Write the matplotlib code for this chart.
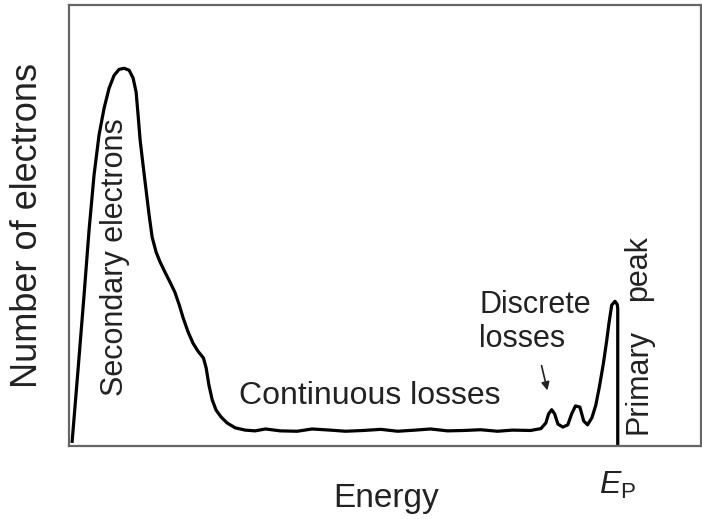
import matplotlib
matplotlib.use("Agg")
import matplotlib.pyplot as plt

plt.rcParams['font.family'] = ['Liberation Sans', 'DejaVu Sans']
plt.rcParams['mathtext.fontset'] = 'custom'
plt.rcParams['mathtext.rm'] = 'Liberation Sans'
plt.rcParams['mathtext.it'] = 'Liberation Sans:italic'

# energy in arbitrary units (E_P = 100), counts in arbitrary units (max = 100)
energy = [0.55, 1.64, 2.74, 3.65, 4.56, 5.47, 6.39, 7.30, 8.21, 9.12, 10.04,
          10.95, 11.68, 12.23, 12.59, 12.96, 13.5, 14.05, 14.6, 15.15, 15.88,
          16.6, 17.5, 18.4, 19.3, 20.1, 20.8, 21.7, 22.6, 23.5, 24.5, 25.0,
          25.5, 26.1, 26.8, 27.7, 28.8, 30.3, 32.1, 33.9, 35.8, 38.5,
          41.6, 44.3, 47.6, 50.4, 53.6, 56.8, 59.9, 63.1, 65.9, 69.0, 71.9,
          75.0, 78.1, 80.8, 84.1, 86.0, 86.9, 87.4, 87.96, 88.5, 89.1, 90.0,
          90.9, 91.6, 92.3, 93.1, 93.8, 94.5, 95.3, 96.0, 96.7, 97.4, 98.0,
          98.4, 98.9, 99.5, 99.9, 100.0, 100.0]
counts = [0.8, 20.1, 39.9, 57.1, 71.7, 82.3, 89.4, 94.7, 98.1, 99.7, 100.0,
          99.5, 97.4, 93.7, 87.6, 81.0, 74.3, 67.7, 61.1, 55.3, 51.3,
          48.7, 46.0, 43.4, 40.7, 37.3, 33.9, 30.2, 27.2, 25.1, 23.3, 20.6,
          16.1, 12.2, 9.5, 7.7, 6.1, 4.8, 4.2, 4.0, 4.5, 4.0,
          3.9, 4.5, 4.2, 3.9, 4.1, 4.4, 3.9, 4.2, 4.5, 4.0, 4.1,
          4.3, 3.9, 4.2, 4.1, 4.6, 6.1, 8.5, 9.6, 8.5, 5.8, 5.0,
          5.6, 8.5, 10.6, 10.3, 6.6, 5.6, 7.5, 10.8, 16.0, 22.0, 28.0,
          32.5, 37.3, 38.3, 37.5, 36.5, 0.0]

fig = plt.figure(figsize=(7.02, 5.19), dpi=100)
ax = fig.add_axes([0.0983, 0.1407, 0.8997, 0.8493])

ax.plot(energy, counts, color='black', lw=2.3, solid_joinstyle='round',
        solid_capstyle='butt')

ax.set_xlim(0, 115.1)
ax.set_ylim(0, 116.7)

for s in ax.spines.values():
    s.set_color('#666666')
    s.set_linewidth(1.6)

ax.set_yticks([])
ax.set_xticks([100])
ax.set_xticklabels([r'$E_{\mathrm{P}}$'], fontsize=23, color='#222222')
ax.tick_params(axis='x', length=0, pad=17)

fig.text(386 / 702, 0.023, 'Energy', fontsize=24, color='#222222',
         ha='center', va='baseline')
fig.text(28 / 702, 0.566, 'Number of electrons', fontsize=26,
         color='#222222', rotation=90, ha='center', va='center')

txt = dict(color='#222222', fontsize=22)
ax.text(8.4, 50.0, 'Secondary electrons', rotation=90, ha='center',
        va='center', **txt)
ax.text(31.0, 13.3, 'Continuous losses', ha='left', va='center',
        color='#222222', fontsize=23)
ax.text(74.8, 32.8, 'Discrete\nlosses', ha='left', va='center',
        linespacing=1.15, **txt)
ax.text(103.8, 17.0, 'Primary', rotation=90, ha='center', va='center', **txt)
ax.text(103.8, 47.0, 'peak', rotation=90, ha='center', va='center', **txt)

ax.annotate('', xy=(87.3, 14.0), xytext=(86.0, 22.0),
            arrowprops=dict(arrowstyle='-|>', color='#222222', lw=1.2,
                            mutation_scale=12))

fig.savefig('out.png', dpi=100)
